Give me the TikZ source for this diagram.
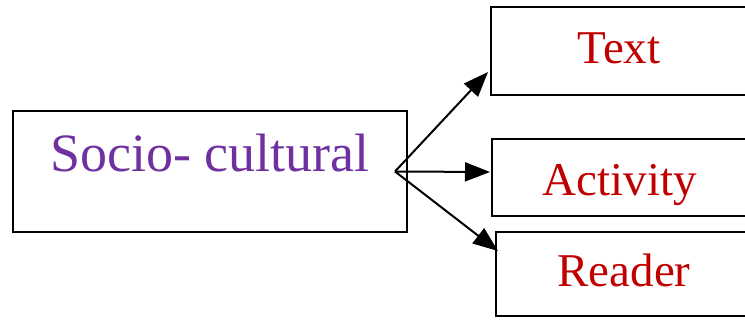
\documentclass[tikz,border=0pt]{standalone}
\usepackage{fontspec}
\setmainfont{Liberation Serif}
\usetikzlibrary{arrows.meta}
\definecolor{socio}{RGB}{112,48,160}
\definecolor{darkred}{RGB}{192,0,0}
\tikzset{
  box/.style={draw=black,line width=2pt,rectangle,inner sep=0pt,anchor=south west},
  lbl/.style={inner sep=0pt,anchor=base,font=\fontsize{47}{50}\selectfont,text=darkred},
  conn/.style={line width=2pt,arrows={-Triangle[length=25pt,width=19pt]}}}
\begin{document}
\begin{tikzpicture}[x=1pt,y=1pt]
\useasboundingbox (0,0) rectangle (745,320);
\clip (0,0) rectangle (745,320);
% boxes
\node[box,minimum width=394pt,minimum height=121pt] (socio) at (12,87) {};
\node[box,minimum width=262pt,minimum height=88pt] (textbox) at (490,224) {};
\node[box,minimum width=262pt,minimum height=77pt] (actbox) at (491,103) {};
\node[box,minimum width=258pt,minimum height=84pt] (readbox) at (495,3) {};
% labels
\node[lbl,font=\fontsize{54}{57}\selectfont,text=socio] (sociot) at (210,148) {Socio- cultural};
\node[lbl] (textt) at (619,256) {Text};
\node[lbl] (actt) at (620,124) {Activity};
\node[lbl] (readt) at (624,33) {Reader};
% connectors
\coordinate (o) at (395,148.5);
\draw[conn] (o) -- ([shift={(-2,24)}]textbox.south west);
\draw[conn] (o) -- ([shift={(-1,45)}]actbox.south west);
\draw[conn] (o) -- ([shift={(3,-20)}]readbox.north west);
\end{tikzpicture}
\end{document}
